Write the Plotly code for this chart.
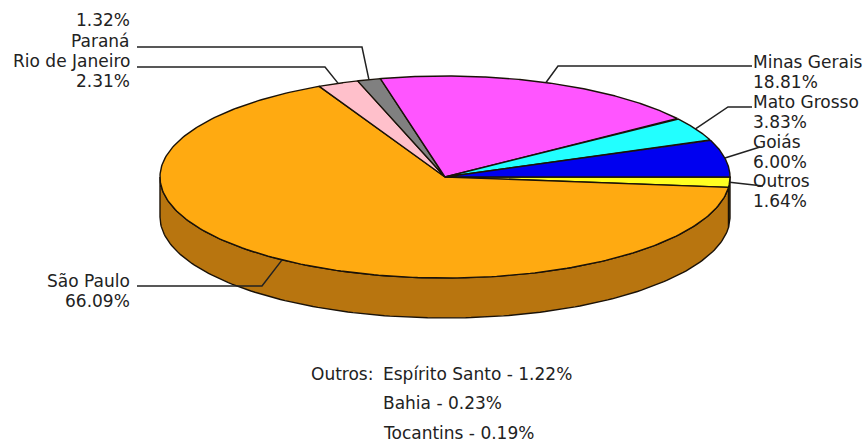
import numpy as np
import plotly.graph_objects as go

# Data
categories = ["Outros", "São Paulo", "Rio de Janeiro", "Paraná", "Minas Gerais", "Mato Grosso", "Goiás"]
shares = [1.64, 66.09, 2.31, 1.32, 18.81, 3.83, 6.00]
other_names = ["Espírito Santo", "Bahia", "Tocantins"]
other_shares = [1.22, 0.23, 0.19]

# Style
top_colors = ["#FFFF22", "#FFAA11", "#FFC0CB", "#808080", "#FF55FF", "#22FFFF", "#0000F0"]
side_colors = ["#B0B010", "#B8750F", "#B08088", "#585858", "#B03AB0", "#18B0B0", "#0000A8"]
FONT = dict(family="DejaVu Sans", size=17, color="#222222")
LINE = "#222222"

# Pie geometry (pixel space of the figure)
CX, CY, RX, RY, DEPTH = 445, 177, 285, 101, 40


def ell(deg):
    a = np.radians(deg)
    return CX + RX * np.cos(a), CY + RY * np.sin(a)


fig = go.Figure()
ends = np.cumsum(shares)
starts = ends - np.array(shares)
to_deg = 360 / ends[-1]

# Side walls (front half only)
for s, e, c in zip(starts, ends, side_colors):
    a0, a1 = s * to_deg, min(e * to_deg, 180)
    if a0 >= 180:
        continue
    t = np.linspace(a0, a1, 160)
    x, y = ell(t)
    xs = np.concatenate([x, x[::-1], x[:1]])
    ys = np.concatenate([y, y[::-1] + DEPTH, y[:1]])
    fig.add_trace(go.Scatter(x=xs, y=ys, mode="lines", fill="toself", fillcolor=c,
                             line=dict(color="#1a1208", width=1.4), hoverinfo="skip"))

# Top faces
for s, e, c in zip(starts, ends, top_colors):
    t = np.linspace(s * to_deg, e * to_deg, 240)
    x, y = ell(t)
    xs = np.concatenate([[CX], x, [CX]])
    ys = np.concatenate([[CY], y, [CY]])
    fig.add_trace(go.Scatter(x=xs, y=ys, mode="lines", fill="toself", fillcolor=c,
                             line=dict(color="#1a1208", width=1.4), hoverinfo="skip"))

# Leader-line layout: points after the slice anchor
leader_path = {
    "Outros": [(763, 186)],
    "São Paulo": [(262, 286), (137, 286)],
    "Rio de Janeiro": [(325, 67), (137, 67)],
    "Paraná": [(362, 47), (137, 47)],
    "Minas Gerais": [(558, 66), (752, 66)],
    "Mato Grosso": [(728, 107), (752, 107)],
    "Goiás": [(760, 147)],
}
# Label layout: x, anchor, y of name, y of share
label_pos = {
    "Outros": (751, "left", 181, 201),
    "São Paulo": (132, "right", 281, 301),
    "Rio de Janeiro": (132, "right", 61, 81),
    "Paraná": (132, "right", 41, 20),
    "Minas Gerais": (751, "left", 62, 82),
    "Mato Grosso": (751, "left", 102, 122),
    "Goiás": (751, "left", 142, 162),
}

for name, v, s, e in zip(categories, shares, starts, ends):
    ax, ay = ell((s + e) / 2 * to_deg)
    pts = leader_path[name]
    fig.add_trace(go.Scatter(x=[ax] + [p[0] for p in pts], y=[ay] + [p[1] for p in pts],
                             mode="lines", line=dict(color=LINE, width=1.5), hoverinfo="skip"))
    lx, anchor, y1, y2 = label_pos[name]
    for txt, ty in ((name, y1), (f"{v:.2f}%", y2)):
        fig.add_annotation(x=lx, y=ty, text=txt, showarrow=False, xanchor=anchor, yanchor="middle",
                           font=FONT, xref="x", yref="y")

# Footnote
foot_y = [374, 403, 433]
for i, (n, v) in enumerate(zip(other_names, other_shares)):
    fig.add_annotation(x=381, y=foot_y[i], text=f"{n} - {v:.2f}%", showarrow=False, xanchor="left",
                       yanchor="middle", font=FONT, xref="x", yref="y")
fig.add_annotation(x=375, y=foot_y[0], text="Outros:", showarrow=False, xanchor="right",
                   yanchor="middle", font=FONT, xref="x", yref="y")

fig.update_layout(
    width=866, height=444, margin=dict(l=0, r=0, t=0, b=0),
    paper_bgcolor="white", plot_bgcolor="white", showlegend=False,
    xaxis=dict(range=[0, 866], visible=False, fixedrange=True),
    yaxis=dict(range=[444, 0], visible=False, fixedrange=True),
)
fig.write_html("out.html", config=dict(displayModeBar=False),
               post_script="document.body.style.margin='0';document.body.style.overflow='hidden';")
